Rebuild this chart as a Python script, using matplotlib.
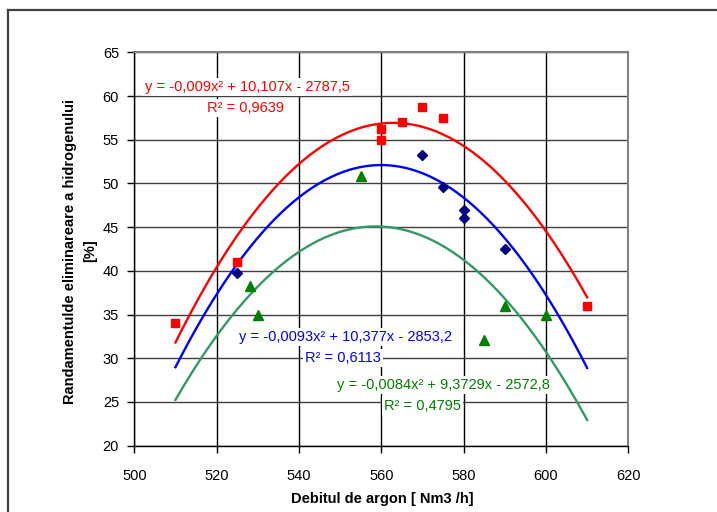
import numpy as np
import matplotlib
matplotlib.use("Agg")
import matplotlib.pyplot as plt
from matplotlib.lines import Line2D

plt.rcParams['font.family'] = ['Liberation Sans', 'DejaVu Sans']

# ---- data ----
red_x = [510, 525, 560, 560, 565, 570, 575, 610]
red_y = [34.0, 41.0, 56.2, 55.0, 57.0, 58.8, 57.5, 36.0]
blue_x = [525, 570, 575, 580, 580, 590]
blue_y = [39.7, 53.2, 49.6, 47.0, 46.0, 42.5]
green_x = [528, 530, 555, 585, 590, 600]
green_y = [38.3, 35.0, 50.8, 32.1, 36.0, 35.0]
x_range = [510, 610]
# blue trendline coefficients (quadratic)
blue_trend = [-0.009266, 10.377, -2853.2]

red_eq = ["y = -0,009x² + 10,107x - 2787,5", "R² = 0,9639"]
blue_eq = ["y = -0,0093x² + 10,377x - 2853,2", "R² = 0,6113"]
green_eq = ["y = -0,0084x² + 9,3729x - 2572,8", "R² = 0,4795"]

xticks = [500, 520, 540, 560, 580, 600, 620]
yticks = [20, 25, 30, 35, 40, 45, 50, 55, 60, 65]
xlabel = "Debitul de argon [ Nm3 /h]"
ylabel = "Randamentulde eliminareare a hidrogenului\n[%]"

W, H = 717, 512
fig = plt.figure(figsize=(W / 100, H / 100), dpi=100)
L, R, T, B = 134.3, 628.3, 52.3, 445.7
ax = fig.add_axes([L / W, 1 - B / H, (R - L) / W, (B - T) / H])

ax.set_xlim(500, 620)
ax.set_ylim(20, 65)
ax.set_xticks(xticks)
ax.set_yticks(yticks)
ax.tick_params(axis='both', labelsize=10.5, length=5, width=1, color='black', direction='out')
ax.tick_params(axis='x', pad=12)
ax.tick_params(axis='y', pad=6)
for s in ['left', 'bottom']:
    ax.spines[s].set_color('black')
    ax.spines[s].set_linewidth(1.0)
for s in ['top', 'right']:
    ax.spines[s].set_color('#808080')
    ax.spines[s].set_linewidth(1.5)
ax.grid(True, axis='x', color='black', linewidth=1.0)
ax.grid(True, axis='y', color='#404040', linewidth=1.0)
ax.set_axisbelow(True)

# trendlines
xs = np.linspace(x_range[0], x_range[1], 200)
red_c = np.polyfit(red_x, red_y, 2)
green_c = np.polyfit(green_x, green_y, 2)
ax.plot(xs, np.polyval(red_c, xs), color='#FF0000', linewidth=1.7, zorder=3)
ax.plot(xs, np.polyval(blue_trend, xs), color='#0000FF', linewidth=1.7, zorder=3)
ax.plot(xs, np.polyval(green_c, xs), color='#339966', linewidth=1.7, zorder=3)

ax.plot(blue_x, blue_y, linestyle='none', marker='D', markersize=5.5,
        color='#000080', zorder=4)
ax.plot(green_x, green_y, linestyle='none', marker='^', markersize=6.5,
        color='#008000', zorder=4)
ax.plot(red_x, red_y, linestyle='none', marker='s', markersize=6,
        color='#FF0000', zorder=5)

def eq(txt, x, y, col):
    ax.text(x, y, txt, color=col, fontsize=10.5, ha='center', va='center', zorder=6,
            bbox=dict(facecolor='white', edgecolor='none', pad=1.5))

eq(red_eq[0], 527.4, 61.0, '#FF0000')
eq(red_eq[1], 526.9, 58.6, '#FF0000')
eq(blue_eq[0], 551.4, 32.45, '#0000FF')
eq(blue_eq[1], 550.7, 30.05, '#0000FF')
eq(green_eq[0], 575.0, 26.9, '#008000')
eq(green_eq[1], 570.1, 24.5, '#008000')

fig.text(382 / W, 1 - 499 / H, xlabel, fontsize=10.5, fontweight='bold',
         ha='center', va='center')
fig.text(80 / W, 1 - 251 / H, ylabel, fontsize=10.5, fontweight='bold',
         ha='center', va='center', rotation=90, multialignment='center',
         linespacing=1.5)

# outer chart-area border
fig.add_artist(Line2D([8 / W, 8 / W], [0, 1 - 10 / H], color='#404040', linewidth=1.6,
                      transform=fig.transFigure))
fig.add_artist(Line2D([8 / W, 1], [1 - 10 / H, 1 - 10 / H], color='#404040', linewidth=1.6,
                      transform=fig.transFigure))

fig.savefig("out.png", dpi=100)
